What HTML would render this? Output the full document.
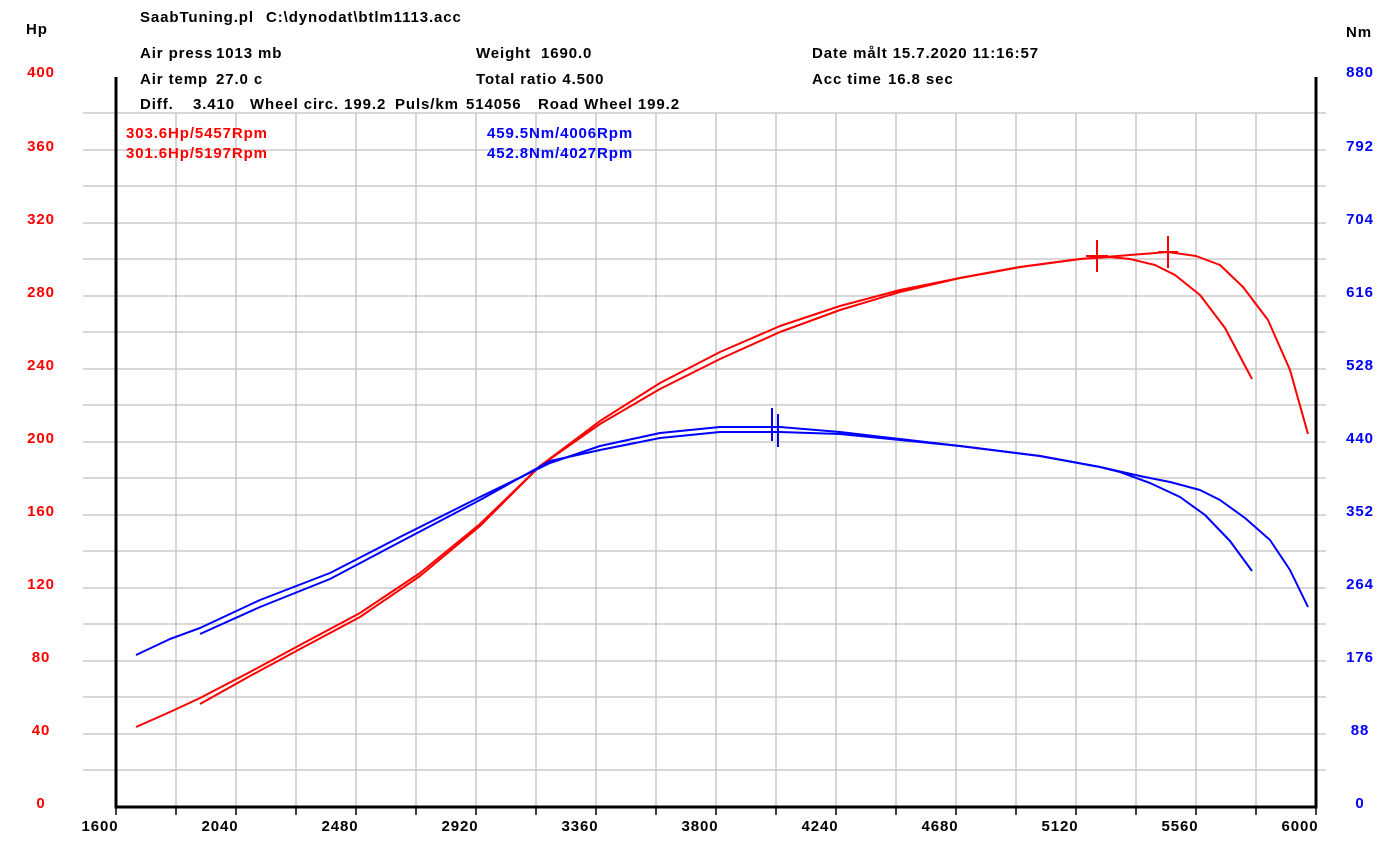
<!DOCTYPE html>
<html><head><meta charset="utf-8"><style>
body{margin:0;background:#fff;}
svg text{font-family:"Liberation Sans",sans-serif;font-weight:bold;font-size:15px;letter-spacing:0.9px;}
</style></head><body>
<svg width="1390" height="849" xmlns="http://www.w3.org/2000/svg">
<g stroke="#c0c0c0" stroke-width="1.3">
<line x1="83" x2="1326" y1="113" y2="113"/><line x1="83" x2="1326" y1="150" y2="150"/><line x1="83" x2="1326" y1="186" y2="186"/><line x1="83" x2="1326" y1="223" y2="223"/><line x1="83" x2="1326" y1="259" y2="259"/><line x1="83" x2="1326" y1="296" y2="296"/><line x1="83" x2="1326" y1="332" y2="332"/><line x1="83" x2="1326" y1="369" y2="369"/><line x1="83" x2="1326" y1="405" y2="405"/><line x1="83" x2="1326" y1="442" y2="442"/><line x1="83" x2="1326" y1="478" y2="478"/><line x1="83" x2="1326" y1="515" y2="515"/><line x1="83" x2="1326" y1="551" y2="551"/><line x1="83" x2="1326" y1="588" y2="588"/><line x1="83" x2="1326" y1="624" y2="624"/><line x1="83" x2="1326" y1="661" y2="661"/><line x1="83" x2="1326" y1="697" y2="697"/><line x1="83" x2="1326" y1="734" y2="734"/><line x1="83" x2="1326" y1="770" y2="770"/>
<line y1="113" y2="807" x1="176" x2="176"/><line y1="113" y2="807" x1="236" x2="236"/><line y1="113" y2="807" x1="296" x2="296"/><line y1="113" y2="807" x1="356" x2="356"/><line y1="113" y2="807" x1="416" x2="416"/><line y1="113" y2="807" x1="476" x2="476"/><line y1="113" y2="807" x1="536" x2="536"/><line y1="113" y2="807" x1="596" x2="596"/><line y1="113" y2="807" x1="656" x2="656"/><line y1="113" y2="807" x1="716" x2="716"/><line y1="113" y2="807" x1="776" x2="776"/><line y1="113" y2="807" x1="836" x2="836"/><line y1="113" y2="807" x1="896" x2="896"/><line y1="113" y2="807" x1="956" x2="956"/><line y1="113" y2="807" x1="1016" x2="1016"/><line y1="113" y2="807" x1="1076" x2="1076"/><line y1="113" y2="807" x1="1136" x2="1136"/><line y1="113" y2="807" x1="1196" x2="1196"/><line y1="113" y2="807" x1="1256" x2="1256"/>
</g>
<g stroke="#000" stroke-width="3" fill="none">
<polyline points="116,77 116,807 1316,807 1316,77"/>
</g>
<g stroke="#000" stroke-width="1.5">
<line x1="116" x2="116" y1="807" y2="815"/><line x1="176" x2="176" y1="807" y2="815"/><line x1="236" x2="236" y1="807" y2="815"/><line x1="296" x2="296" y1="807" y2="815"/><line x1="356" x2="356" y1="807" y2="815"/><line x1="416" x2="416" y1="807" y2="815"/><line x1="476" x2="476" y1="807" y2="815"/><line x1="536" x2="536" y1="807" y2="815"/><line x1="596" x2="596" y1="807" y2="815"/><line x1="656" x2="656" y1="807" y2="815"/><line x1="716" x2="716" y1="807" y2="815"/><line x1="776" x2="776" y1="807" y2="815"/><line x1="836" x2="836" y1="807" y2="815"/><line x1="896" x2="896" y1="807" y2="815"/><line x1="956" x2="956" y1="807" y2="815"/><line x1="1016" x2="1016" y1="807" y2="815"/><line x1="1076" x2="1076" y1="807" y2="815"/><line x1="1136" x2="1136" y1="807" y2="815"/><line x1="1196" x2="1196" y1="807" y2="815"/><line x1="1256" x2="1256" y1="807" y2="815"/><line x1="1316" x2="1316" y1="807" y2="815"/>
</g>
<g fill="none" stroke-width="2" stroke-linejoin="round">
<polyline stroke="#f00" points="136,727 170,712 200,698 250,672 300,645 360,613 420,573 480,524 540,466 600,421 660,383 720,352 780,326 840,306 900,290 960,278 1020,267 1080,259 1130,255 1168,252 1196,256 1220,265 1243,287 1268,320 1290,370 1308,434"/>
<polyline stroke="#f00" points="200,704 250,676 300,649 360,617 420,576 480,526 540,466 600,424 660,389 720,359 780,332 840,310 900,292 960,278 1020,267 1080,259 1110,257 1130,259 1155,265 1175,275 1200,295 1225,328 1252,379"/>
<polyline stroke="#00f" points="136,655 170,639 200,628 260,600 330,573 400,537 480,497 550,463 600,446 660,433 720,427 780,427 840,432 900,439 960,446 1040,456 1100,467 1140,476 1170,482 1200,490 1220,500 1245,518 1270,540 1290,570 1308,607"/>
<polyline stroke="#00f" points="200,634 260,607 330,579 400,542 480,500 550,461 600,450 660,438 720,432 780,432 840,434 900,440 960,446 1040,456 1100,467 1120,472 1150,483 1180,497 1205,515 1230,541 1252,571"/>
</g>
<g stroke-width="2">
<line stroke="#f00" x1="1097" x2="1097" y1="240" y2="272"/><line stroke="#f00" x1="1086" x2="1108" y1="256" y2="256"/>
<line stroke="#f00" x1="1168" x2="1168" y1="236" y2="268"/><line stroke="#f00" x1="1158" x2="1178" y1="252" y2="252"/>
<line stroke="#00f" x1="772" x2="772" y1="408" y2="441"/><line stroke="#00f" x1="778" x2="778" y1="414" y2="447"/>
</g>
<g fill="#000">
<text x="26" y="34">Hp</text><text x="1346" y="37">Nm</text>
<text x="140" y="22">SaabTuning.pl</text><text x="266" y="22">C:\dynodat\btlm1113.acc</text>
<text x="140" y="58">Air press</text><text x="216" y="58">1013 mb</text><text x="476" y="58">Weight</text><text x="541" y="58">1690.0</text><text x="812" y="58">Date målt 15.7.2020 11:16:57</text>
<text x="140" y="84">Air temp</text><text x="216" y="84">27.0 c</text><text x="476" y="84">Total ratio 4.500</text><text x="812" y="84">Acc time</text><text x="888" y="84">16.8 sec</text>
<text x="140" y="109">Diff.</text><text x="193" y="109">3.410</text><text x="250" y="109">Wheel circ. 199.2</text><text x="395" y="109">Puls/km</text><text x="466" y="109">514056</text><text x="538" y="109">Road Wheel 199.2</text>
</g>
<g fill="#f00"><text x="126" y="138">303.6Hp/5457Rpm</text><text x="126" y="158">301.6Hp/5197Rpm</text></g>
<g fill="#00f"><text x="487" y="138">459.5Nm/4006Rpm</text><text x="487" y="158">452.8Nm/4027Rpm</text></g>
<g fill="#f00" text-anchor="middle">
<text x="41" y="77">400</text><text x="41" y="151">360</text><text x="41" y="224">320</text><text x="41" y="297">280</text><text x="41" y="370">240</text><text x="41" y="443">200</text><text x="41" y="516">160</text><text x="41" y="589">120</text><text x="41" y="662">80</text><text x="41" y="735">40</text><text x="41" y="808">0</text>
</g>
<g fill="#00f" text-anchor="middle">
<text x="1360" y="77">880</text><text x="1360" y="151">792</text><text x="1360" y="224">704</text><text x="1360" y="297">616</text><text x="1360" y="370">528</text><text x="1360" y="443">440</text><text x="1360" y="516">352</text><text x="1360" y="589">264</text><text x="1360" y="662">176</text><text x="1360" y="735">88</text><text x="1360" y="808">0</text>
</g>
<g fill="#000" text-anchor="middle">
<text x="100" y="831">1600</text><text x="220" y="831">2040</text><text x="340" y="831">2480</text><text x="460" y="831">2920</text><text x="580" y="831">3360</text><text x="700" y="831">3800</text><text x="820" y="831">4240</text><text x="940" y="831">4680</text><text x="1060" y="831">5120</text><text x="1180" y="831">5560</text><text x="1300" y="831">6000</text>
</g>
</svg>
</body></html>
